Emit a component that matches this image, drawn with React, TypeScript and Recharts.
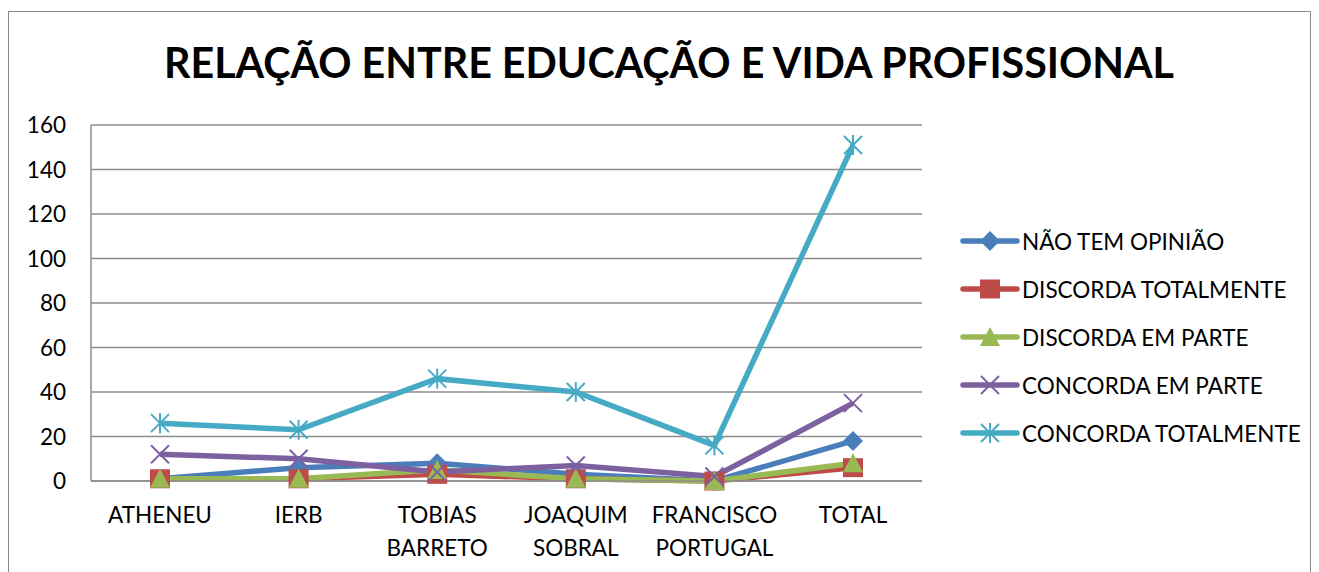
import React from 'react';
import { LineChart, Line, XAxis, YAxis, CartesianGrid, Legend } from 'recharts';

const categories = ['ATHENEU', 'IERB', 'TOBIAS BARRETO', 'JOAQUIM SOBRAL', 'FRANCISCO PORTUGAL', 'TOTAL'];
const naoTemOpiniao = [1, 6, 8, 3, 0, 18];
const discordaTotalmente = [1, 1, 3, 1, 0, 6];
const discordaEmParte = [1, 1, 5, 1, 0, 8];
const concordaEmParte = [12, 10, 4, 7, 2, 35];
const concordaTotalmente = [26, 23, 46, 40, 16, 151];
const yTicks = [0, 20, 40, 60, 80, 100, 120, 140, 160];

const seriesNames = ['NÃO TEM OPINIÃO', 'DISCORDA TOTALMENTE', 'DISCORDA EM PARTE', 'CONCORDA EM PARTE', 'CONCORDA TOTALMENTE'];
const seriesValues = [naoTemOpiniao, discordaTotalmente, discordaEmParte, concordaEmParte, concordaTotalmente];
const colors = ['#4A7EBB', '#BE4B48', '#98B954', '#7D60A0', '#46AAC5'];
const shapes = ['diamond', 'square', 'triangle', 'x', 'star'];

const data = categories.map((c, i) => {
  const row: any = { name: c };
  seriesNames.forEach((s, j) => { row[s] = seriesValues[j][i]; });
  return row;
});

const FONT = 'Lato, "Open Sans", sans-serif';
const FS = 22.5;

function Marker({ shape, cx, cy, color }: { shape: string; cx: number; cy: number; color: string }) {
  const r = 10;
  if (shape === 'diamond') {
    return <polygon points={`${cx},${cy - r} ${cx + r},${cy} ${cx},${cy + r} ${cx - r},${cy}`} fill={color} />;
  }
  if (shape === 'square') {
    return <rect x={cx - 10} y={cy - 9.5} width={20} height={19} fill={color} />;
  }
  if (shape === 'triangle') {
    return <polygon points={`${cx},${cy - 10} ${cx + 10},${cy + 9} ${cx - 10},${cy + 9}`} fill={color} />;
  }
  if (shape === 'x') {
    return (
      <g stroke={color} strokeWidth={2}>
        <line x1={cx - 9} y1={cy - 9} x2={cx + 9} y2={cy + 9} />
        <line x1={cx - 9} y1={cy + 9} x2={cx + 9} y2={cy - 9} />
      </g>
    );
  }
  return (
    <g stroke={color} strokeWidth={2}>
      <line x1={cx - 9} y1={cy - 9} x2={cx + 9} y2={cy + 9} />
      <line x1={cx - 9} y1={cy + 9} x2={cx + 9} y2={cy - 9} />
      <line x1={cx} y1={cy - 10} x2={cx} y2={cy + 10} />
    </g>
  );
}

const makeDot = (shape: string, color: string) => (props: any) => {
  const { cx, cy, index } = props;
  if (cx == null || cy == null) return <g key={`d-${shape}-${index}`} />;
  return (
    <g key={`d-${shape}-${index}`}>
      <Marker shape={shape} cx={cx} cy={cy} color={color} />
    </g>
  );
};

const XTick = (props: any) => {
  const { x, y, payload } = props;
  const words = String(payload.value).split(' ');
  return (
    <g transform={`translate(${x},${y})`}>
      {words.map((w, i) => (
        <text key={i} x={0} y={i * 33} dy={34} textAnchor="middle" fill="#000" fontSize={FS} fontFamily={FONT}>
          {w}
        </text>
      ))}
    </g>
  );
};

const YTick = (props: any) => {
  const { y, payload } = props;
  return (
    <text x={66} y={y} dy={8} textAnchor="end" fill="#000" fontSize={FS} fontFamily={FONT}>
      {payload.value}
    </text>
  );
};

const LegendContent = () => (
  <div style={{ fontFamily: FONT, fontSize: FS, color: '#000' }}>
    {seriesNames.map((s, i) => (
      <div key={s} style={{ display: 'flex', alignItems: 'center', height: 48 }}>
        <svg width={60} height={24} style={{ display: 'block' }}>
          <line x1={3} y1={12} x2={57} y2={12} stroke={colors[i]} strokeWidth={5.5} strokeLinecap="round" />
          <Marker shape={shapes[i]} cx={30} cy={12} color={colors[i]} />
        </svg>
        <span style={{ marginLeft: 2, whiteSpace: 'nowrap' }}>{s}</span>
      </div>
    ))}
  </div>
);

export default function App() {
  return (
    <div style={{ position: 'fixed', left: 0, top: 0, width: 1319, height: 572, background: '#fff', overflow: 'hidden' }}>
      <div style={{ position: 'absolute', left: 8, top: 11, width: 1301, height: 700, border: '1px solid #8a8a8a' }} />
      <div
        style={{
          position: 'absolute', left: 0, top: 36, width: 1338, textAlign: 'center',
          fontFamily: FONT, fontWeight: 700, fontSize: 41.2, color: '#000', lineHeight: '52px',
        }}
      >
        RELAÇÃO ENTRE EDUCAÇÃO E VIDA PROFISSIONAL
      </div>
      <div style={{ position: 'absolute', left: 0, top: 0 }}>
        <LineChart width={1319} height={572} data={data} margin={{ top: 125, right: 38, bottom: 0, left: 0 }}>
          <CartesianGrid vertical={false} stroke="#8c8c8c" strokeWidth={1.5} />
          <XAxis dataKey="name" height={91} tick={<XTick />} tickLine={false} axisLine={{ stroke: '#8c8c8c', strokeWidth: 1.5 }} interval={0} padding={{ left: 69, right: 69 }} />
          <YAxis width={91} domain={[0, 160]} ticks={yTicks} tick={<YTick />} tickLine={false} axisLine={{ stroke: '#8c8c8c', strokeWidth: 1.5 }} />
          {seriesNames.map((s, i) => (
            <Line
              key={s}
              dataKey={s}
              stroke={colors[i]}
              strokeWidth={5.5}
              dot={makeDot(shapes[i], colors[i])}
              activeDot={false}
              isAnimationActive={false}
            />
          ))}
          <Legend
            layout="vertical"
            align="right"
            verticalAlign="middle"
            content={<LegendContent />}
            wrapperStyle={{ position: 'absolute', left: 960, top: 217, width: 359, height: 240 }}
          />
        </LineChart>
      </div>
    </div>
  );
}
